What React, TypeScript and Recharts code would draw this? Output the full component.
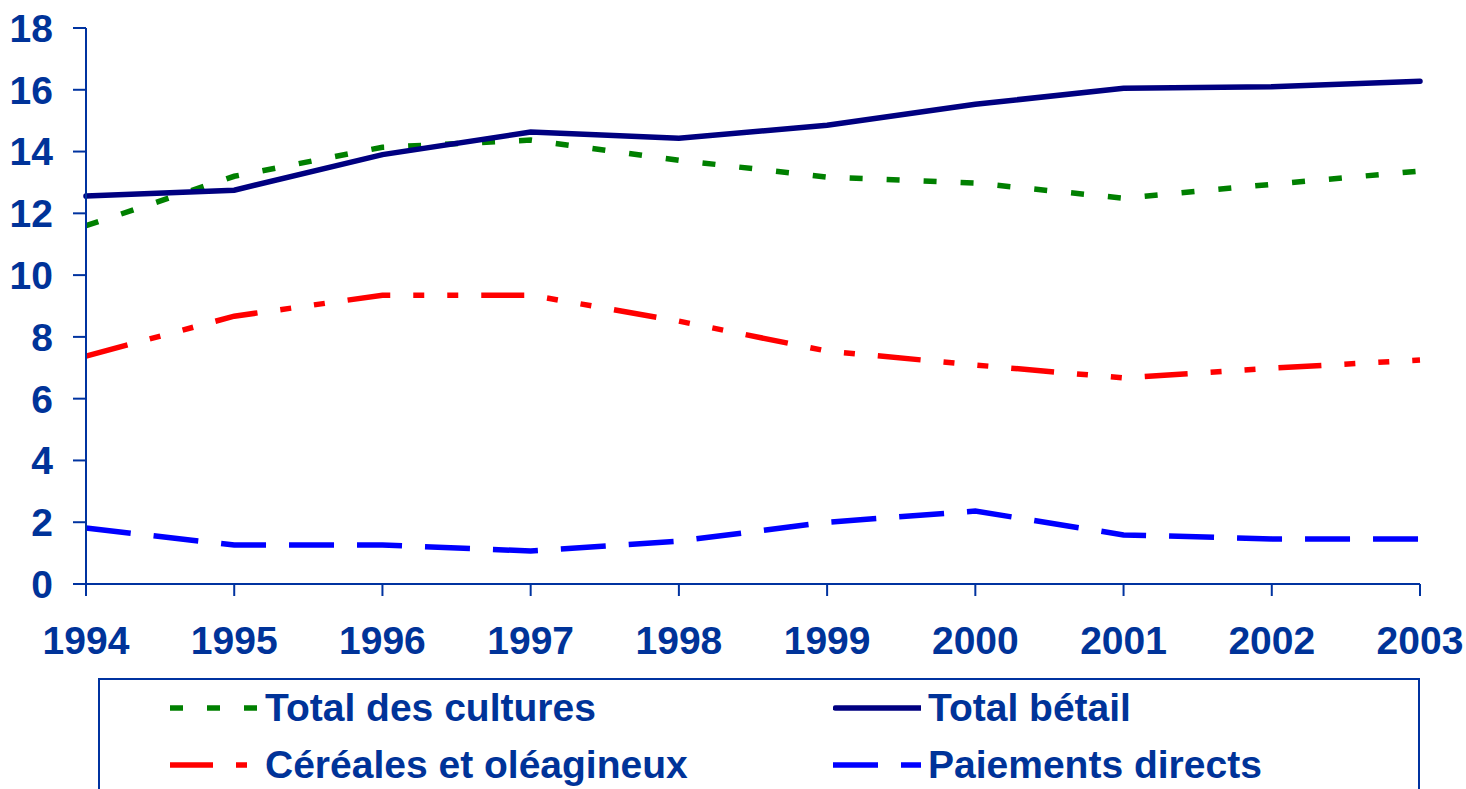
import { LineChart, Line, XAxis, YAxis } from 'recharts';

const years = ['1994', '1995', '1996', '1997', '1998', '1999', '2000', '2001', '2002', '2003'];
const totalCultures = [11.6, 13.2, 14.14, 14.37, 13.72, 13.17, 12.98, 12.49, 12.94, 13.37];
const totalBetail = [12.56, 12.75, 13.9, 14.63, 14.43, 14.85, 15.53, 16.05, 16.1, 16.28];
const cereales = [7.38, 8.67, 9.35, 9.35, 8.51, 7.54, 7.09, 6.67, 6.99, 7.25];
const paiements = [1.81, 1.26, 1.26, 1.07, 1.39, 2.0, 2.36, 1.59, 1.46, 1.46];
const yTicks = [0, 2, 4, 6, 8, 10, 12, 14, 16, 18];

const data = years.map((year, i) => ({
  year,
  cultures: totalCultures[i],
  betail: totalBetail[i],
  cereales: cereales[i],
  paiements: paiements[i],
}));

const AXIS = '#0033a0';
const TEXT = '#003399';
const FONT = '"Liberation Sans", Arial, sans-serif';

const series = [
  { key: 'cultures', name: 'Total des cultures', color: '#008000', dash: '13 24', cap: 'butt' as const },
  { key: 'betail', name: 'Total bétail', color: '#000080', dash: undefined, cap: 'round' as const },
  { key: 'cereales', name: 'Céréales et oléagineux', color: '#ff0000', dash: '43 23 11 23 11 23', cap: 'butt' as const },
  { key: 'paiements', name: 'Paiements directs', color: '#0000ff', dash: '45 23', cap: 'butt' as const },
];

// legend slots: [left of sample, centre of row]
const legendPos = [
  { x: 170, y: 708 },
  { x: 833, y: 708 },
  { x: 170, y: 765 },
  { x: 833, y: 765 },
];

const tickStyle = { fill: TEXT, fontSize: 39, fontWeight: 700, fontFamily: FONT };

export default function App() {
  return (
    <div style={{ position: 'absolute', left: 0, top: 0, width: 1466, height: 789, background: '#fff', overflow: 'hidden' }}>
      <LineChart width={1466} height={789} data={data} margin={{ top: 28, right: 46, left: 0, bottom: 125 }}>
        <XAxis
          dataKey="year"
          height={80}
          stroke={AXIS}
          strokeWidth={2}
          tickSize={12}
          tickMargin={30}
          tick={tickStyle}
          interval={0}
        />
        <YAxis
          width={86}
          domain={[0, 18]}
          ticks={yTicks}
          stroke={AXIS}
          strokeWidth={2}
          tickSize={13}
          tickMargin={20}
          tick={tickStyle}
          interval={0}
        />
        {series.map((s) => (
          <Line
            key={s.key}
            type="linear"
            dataKey={s.key}
            name={s.name}
            stroke={s.color}
            strokeWidth={5.5}
            strokeDasharray={s.dash}
            strokeLinecap={s.cap}
            dot={false}
            activeDot={false}
            isAnimationActive={false}
          />
        ))}
      </LineChart>

      <div
        style={{
          position: 'absolute',
          left: 98,
          top: 678,
          width: 1322,
          height: 200,
          border: `2px solid ${AXIS}`,
          boxSizing: 'border-box',
        }}
      />
      {series.map((s, i) => (
        <div
          key={s.key}
          style={{
            position: 'absolute',
            left: legendPos[i].x,
            top: legendPos[i].y - 25,
            height: 50,
            display: 'flex',
            alignItems: 'center',
            fontFamily: FONT,
            fontWeight: 700,
            fontSize: 39,
            color: TEXT,
            whiteSpace: 'nowrap',
          }}
        >
          <svg width={88} height={10} style={{ marginRight: 7 }}>
            <line
              x1={0}
              y1={5}
              x2={s.cap === 'round' ? 85 : 88}
              y2={5}
              stroke={s.color}
              strokeWidth={5.5}
              strokeDasharray={s.dash}
              strokeLinecap={s.cap}
              transform={s.cap === 'round' ? 'translate(2.5,0)' : undefined}
            />
          </svg>
          <span>{s.name}</span>
        </div>
      ))}
    </div>
  );
}
